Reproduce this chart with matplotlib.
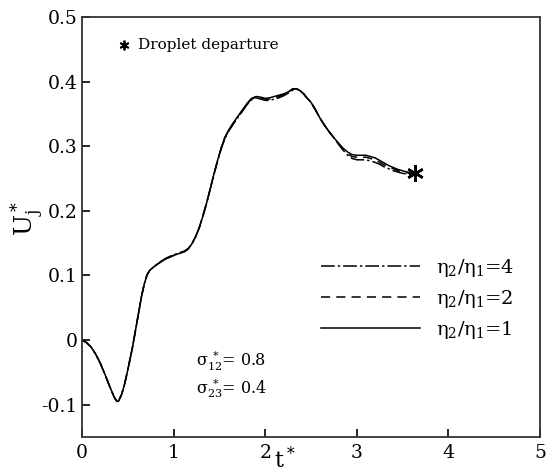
import matplotlib.pyplot as plt
import numpy as np

plt.rcParams['font.family'] = 'DejaVu Serif'
plt.rcParams['mathtext.fontset'] = 'dejavuserif'

# jet velocity vs. time for three viscosity ratios
t = [0.00, 0.05, 0.10, 0.15, 0.20, 0.25, 0.30, 0.35, 0.38, 0.40, 0.43, 0.46, 0.50,
     0.55, 0.60, 0.65, 0.68, 0.71, 0.74, 0.78, 0.85, 0.92, 1.00, 1.06, 1.12, 1.16,
     1.20, 1.24, 1.28, 1.32, 1.36, 1.40, 1.44, 1.48, 1.52, 1.56, 1.60, 1.65, 1.70,
     1.75, 1.80, 1.85, 1.90, 1.95, 2.00, 2.05, 2.10, 2.15, 2.20, 2.25, 2.30, 2.34,
     2.38, 2.42, 2.46, 2.50, 2.55, 2.60, 2.65, 2.70, 2.75, 2.80, 2.85, 2.90, 2.95,
     3.00, 3.05, 3.10, 3.15, 3.20, 3.25, 3.30, 3.35, 3.40, 3.45, 3.50, 3.55, 3.60]

u_eta1 = [0.000, -0.004, -0.011, -0.022, -0.036, -0.053, -0.071, -0.088, -0.095, -0.094,
          -0.085, -0.071, -0.046, -0.012, 0.028, 0.068, 0.087, 0.101, 0.108, 0.113,
          0.120, 0.126, 0.131, 0.134, 0.137, 0.141, 0.149, 0.160, 0.174, 0.192, 0.212,
          0.234, 0.257, 0.278, 0.298, 0.314, 0.325, 0.336, 0.346, 0.356, 0.366, 0.374,
          0.377, 0.376, 0.374, 0.375, 0.377, 0.379, 0.381, 0.384, 0.389, 0.389, 0.386,
          0.381, 0.374, 0.368, 0.356, 0.343, 0.332, 0.322, 0.313, 0.305, 0.297, 0.291,
          0.287, 0.286, 0.286, 0.286, 0.284, 0.282, 0.278, 0.274, 0.270, 0.267, 0.264,
          0.262, 0.260, 0.258]

u_eta2 = [0.000, -0.004, -0.011, -0.022, -0.036, -0.053, -0.071, -0.088, -0.095, -0.094,
          -0.085, -0.071, -0.046, -0.012, 0.028, 0.068, 0.087, 0.101, 0.108, 0.113,
          0.120, 0.126, 0.131, 0.134, 0.137, 0.141, 0.149, 0.160, 0.174, 0.192, 0.212,
          0.234, 0.257, 0.278, 0.297, 0.313, 0.324, 0.335, 0.345, 0.355, 0.365, 0.373,
          0.376, 0.375, 0.373, 0.373, 0.375, 0.377, 0.380, 0.383, 0.388, 0.389, 0.386,
          0.381, 0.374, 0.368, 0.356, 0.343, 0.332, 0.322, 0.313, 0.304, 0.295, 0.288,
          0.284, 0.283, 0.283, 0.283, 0.281, 0.279, 0.275, 0.271, 0.268, 0.265, 0.262,
          0.260, 0.259, 0.257]

u_eta4 = [0.000, -0.004, -0.011, -0.022, -0.036, -0.053, -0.071, -0.088, -0.095, -0.094,
          -0.085, -0.071, -0.046, -0.012, 0.028, 0.068, 0.087, 0.101, 0.108, 0.113,
          0.121, 0.127, 0.132, 0.135, 0.138, 0.142, 0.149, 0.160, 0.174, 0.192, 0.212,
          0.234, 0.256, 0.277, 0.296, 0.312, 0.323, 0.334, 0.344, 0.354, 0.364, 0.372,
          0.375, 0.373, 0.371, 0.371, 0.373, 0.375, 0.378, 0.382, 0.387, 0.389, 0.386,
          0.381, 0.374, 0.368, 0.356, 0.343, 0.332, 0.322, 0.313, 0.303, 0.294, 0.286,
          0.281, 0.279, 0.279, 0.279, 0.277, 0.275, 0.272, 0.268, 0.265, 0.262, 0.260,
          0.258, 0.257, 0.256]

t_dep = 3.63
u_dep = 0.259

labels = [r'$\mathrm{\eta_2/\eta_1}$=4', r'$\mathrm{\eta_2/\eta_1}$=2',
          r'$\mathrm{\eta_2/\eta_1}$=1']

fig = plt.figure(figsize=(5.49, 4.74), dpi=100)
ax = fig.add_axes([0.1494, 0.0781, 0.8342, 0.886])

lw = 1.1
l4, = ax.plot(t, u_eta4, color='black', lw=lw, dashes=[9, 2, 1.5, 2])
l2, = ax.plot(t, u_eta2, color='black', lw=lw, dashes=[6, 4])
l1, = ax.plot(t, u_eta1, color='black', lw=lw)
ax.plot(t_dep, u_dep, marker=(6, 2, 0), ms=12, mew=1.8, color='black')

ax.set_xlim(0, 5)
ax.set_ylim(-0.15, 0.5)
ax.set_xticks([0, 1, 2, 3, 4, 5])
ax.set_xticklabels(['0', '1', '2', '3', '4', '5'])
ax.set_yticks([-0.1, 0, 0.1, 0.2, 0.3, 0.4, 0.5])
ax.set_yticklabels(['-0.1', '0', '0.1', '0.2', '0.3', '0.4', '0.5'])
ax.tick_params(direction='in', length=6, width=1.2, labelsize=13.5)
ax.tick_params(axis='y', pad=3)
ax.tick_params(axis='x', pad=5)
for s in ax.spines.values():
    s.set_linewidth(1.3)
    s.set_color('#333333')

ax.set_xlabel(r'$\mathrm{t^*}$', fontsize=16)
ax.xaxis.set_label_coords(0.443, -0.022)
ax.set_ylabel(r'$\mathrm{U_j^*}$', fontsize=18)
ax.yaxis.set_label_coords(-0.078, 0.52)

ax.legend([l4, l2, l1], labels, loc='center left', bbox_to_anchor=(0.522, 0.3286),
          frameon=False, fontsize=14, handlelength=5.1, handletextpad=0.8,
          labelspacing=0.45, borderpad=0, borderaxespad=0)

ax.plot(0.46, 0.457, marker=(6, 2, 0), ms=7, mew=1.3, color='black')
ax.text(0.61, 0.457, 'Droplet departure', fontsize=11, va='center')
ax.text(1.24, -0.032, r'$\mathrm{\sigma_{12}^{\ *}}$= 0.8', fontsize=11.5, va='center')
ax.text(1.24, -0.075, r'$\mathrm{\sigma_{23}^{\ *}}$= 0.4', fontsize=11.5, va='center')

fig.savefig('out.png', dpi=100)
